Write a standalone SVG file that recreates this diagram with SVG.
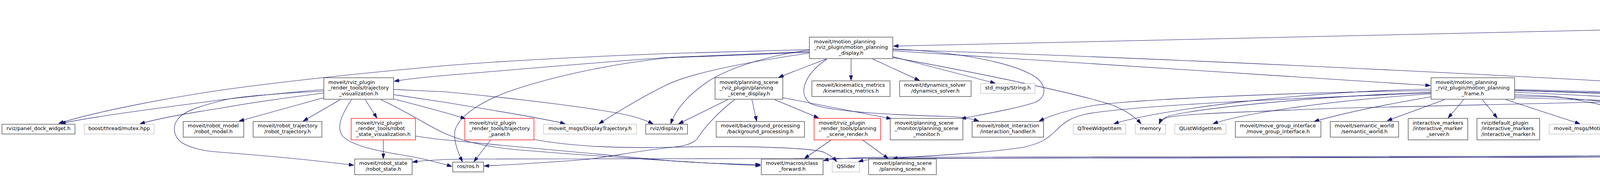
<svg xmlns="http://www.w3.org/2000/svg" width="6805" height="453" viewBox="0 0 6805 453">
<defs>
<marker id="ah" markerWidth="13" markerHeight="9" refX="13" refY="4.5" orient="auto" markerUnits="userSpaceOnUse"><path d="M0,0 L13,4.5 L0,9 z" fill="#191970" stroke="#191970" stroke-width="1"/></marker>
</defs>
<style>
.nd rect{fill:#fff;stroke:#404040;stroke-width:1.3}
.gr rect{fill:#fff;stroke:#bfbfbf;stroke-width:1.3}
.rd rect{fill:#fff;stroke:#ff0000;stroke-width:1.3}
.rt rect{fill:#bfbfbf;stroke:#404040;stroke-width:1.3}
text{font-family:"DejaVu Sans","Noto Sans",sans-serif;font-size:13px;fill:#000}
.m{text-anchor:middle}
.s{text-anchor:start}
#edges path{fill:none;stroke:#191970;stroke-width:1.1}
</style>
<rect width="6805" height="453" fill="#fff"/>
<g id="edges" marker-end="url(#ah)">
<path d="M6218,29 L2287,118"/>
<path d="M6243,46 L5722,198"/>
<path d="M6306.7,46 L6306.7,102"/>
<path d="M6339,46 L6452,109"/>
<path d="M6368,46 L6568,109"/>
<path d="M6395,38 C6520,55 6650,88 6717,109"/>
<path d="M6256,46 C6200,80 6170,140 6173,200 C6176,250 6190,300 6170,330 C6150,360 6100,368 6064,370 C5950,376 5800,383 5700,388 C5400,393 5100,397 4600,400 L2300,405 C2240,406 2215,409 2197,414"/>
<path d="M5583,254 C5530,295 5505,340 5468,360 C5430,372 5300,376 5130,380 C4700,390 4300,398 3800,400 L2300,402 C2180,403 2130,406 2108,411"/>
<path d="M5610,254 C5570,310 5530,355 5480,370 C5430,383 5300,386 5130,388 C4700,396 4300,402 3800,403 L1200,407 C1120,408 1080,411 1056,415"/>
<path d="M5575,254 L5448,317"/>
<path d="M5630.7,254 L5630.7,317"/>
<path d="M5668,254 C5690,270 5720,290 5753,317"/>
<path d="M5715,254 L5918,317"/>
<path d="M5737,236 C5900,255 6030,285 6077,317"/>
<path d="M5524,230 C4800,245 3800,265 3420,277 C3150,288 3010,292 2985,302 C2975,306 2970,311 2968,317"/>
<path d="M2072,127 C1900,131 1800,134 1710,137 C1500,145 1300,155 1140,168 C950,185 750,205 570,230 C400,255 230,290 150,316"/>
<path d="M2072,132 C1900,139 1800,143 1710,147 C1500,162 1300,180 1140,193 C1080,198 1040,203 1009,208"/>
<path d="M2072,134 C1900,140 1800,144 1710,148 C1550,165 1400,200 1300,235 C1220,265 1175,300 1165,333 C1160,360 1172,390 1184,414"/>
<path d="M2072,136 C1900,160 1760,190 1705,218 C1640,250 1575,290 1533,317"/>
<path d="M2072,128 C1980,140 1870,170 1810,210 C1760,245 1730,280 1717,317"/>
<path d="M2115,151 L1993,198"/>
<path d="M2178.7,150 L2178.7,206"/>
<path d="M2234,151 L2354,206"/>
<path d="M2285,145 L2548,213"/>
<path d="M2285,125 C2450,133 2600,160 2655,200 C2680,222 2678,250 2650,262 C2600,278 2520,292 2460,304"/>
<path d="M2117,151 C2060,190 2040,240 2075,265 C2130,290 2350,296 2425,298 C2460,299 2485,303 2506,310"/>
<path d="M2285,127 C2800,143 3400,170 3990,201 C4400,222 4800,255 5130,277 C5300,290 5365,300 5396,317"/>
<path d="M2285,130 L3662,219"/>
<path d="M2285,147 C2550,195 2780,245 2850,270 C2880,282 2905,298 2921,317"/>
<path d="M1863,255 L1737,317"/>
<path d="M1881,255 C1840,285 1800,330 1785,355 C1770,372 1740,375 1710,378 C1620,388 1560,402 1500,408 C1380,418 1290,422 1239,425"/>
<path d="M1925,255 L1937,310"/>
<path d="M1983,255 L2096,302"/>
<path d="M2004,250 L2282,304"/>
<path d="M2128,358 L2059,406"/>
<path d="M2208,358 L2274,406"/>
<path d="M829,229 C720,238 640,247 570,255 C420,275 260,295 155,316"/>
<path d="M829,238 C720,252 640,263 570,276 C480,290 410,302 358,317"/>
<path d="M829,233 C700,240 600,248 570,257 C510,272 470,285 455,305 C440,325 445,350 465,365 C500,385 540,388 570,390 C700,400 820,412 906,423"/>
<path d="M829,250 L612,310"/>
<path d="M871,255 L776,310"/>
<path d="M935,255 L965,302"/>
<path d="M900,255 C880,285 860,320 875,345 C890,368 950,385 1050,400 C1100,410 1130,418 1157,426"/>
<path d="M1007,229 C1050,231 1100,233 1140,235 C1350,255 1550,280 1620,298 C1645,305 1660,311 1672,317"/>
<path d="M1007,242 C1060,250 1100,256 1140,262 C1280,285 1400,305 1447,317"/>
<path d="M1007,253 C1080,272 1150,290 1192,304"/>
<path d="M975,255 C1060,295 1100,325 1140,342 C1190,364 1250,376 1320,383 C1500,398 1800,418 1947,424"/>
<path d="M1063,348 C1090,352 1120,357 1140,358 C1350,378 1600,402 1710,411 C1800,418 1900,421 1947,421"/>
<path d="M981.3,358 L981.3,406"/>
<path d="M1256,358 L1213,414"/>
<path d="M1367,357 C1450,372 1550,380 1710,377 C1900,372 2080,378 2110,390 C2125,397 2135,405 2142,414"/>
<path d="M3698,255 L3551,309"/>
<path d="M3747,255 L3707,302"/>
<path d="M3795,255 L3833,302"/>
<path d="M3855,255 L4045,317"/>
<path d="M3663,248 C3500,275 3420,295 3364,311"/>
<path d="M3663,240 C3400,258 3180,290 3105,317"/>
<path d="M3663,236 C3300,250 3010,285 2985,300 C2975,306 2970,311 2967,317"/>
<path d="M3663,228 C3300,235 2950,285 2851,317"/>
<path d="M3663,232 C3300,236 2900,255 2800,270 C2730,282 2690,295 2660,310"/>
<path d="M3663,238 C3300,252 2900,270 2780,292 C2690,312 2720,355 2620,377 C2500,395 2330,400 2285,406"/>
<path d="M3877,242 C3930,244 3970,246 3990,248 C4100,265 4200,290 4254,310"/>
<path d="M3877,246 C3930,247 3970,248 3990,249 C4200,268 4380,292 4458,310"/>
<path d="M3877,236 C4200,250 4450,268 4560,278 C4650,288 4700,300 4731,317"/>
<path d="M3877,232 C4200,242 4450,252 4560,260 C4700,272 4820,290 4860,305 C4870,309 4878,312 4886,317"/>
<path d="M3877,229 C4200,237 4450,246 4560,253 C4800,268 4960,285 4995,297 C5008,302 5016,308 5023,317"/>
<path d="M3877,231 C4200,240 4450,250 4560,257 C4850,275 5040,288 5080,300 C5090,304 5097,310 5103,317"/>
<path d="M3877,250 C4300,262 4800,282 5130,298 C5160,301 5175,304 5193,310"/>
</g>
<g id="n_root" class="rt"><rect x="6218" y="6" width="177.5" height="40"/><text class="s" x="6229.5" y="21.4">motion_planning_frame</text><text class="m" x="6306.7" y="36.1">_joints_widget.cpp</text></g>
<g id="n_ui" class="gr"><rect x="6206" y="103" width="201.5" height="40"/><text class="s" x="6217.5" y="118.4">ui_motion_planning</text><text class="m" x="6306.7" y="133.1">_rviz_plugin_frame_joints.h</text></g>
<g id="n_qpainter" class="gr"><rect x="6431.5" y="110" width="77.5" height="25"/><text class="m" x="6470.2" y="125.2">QPainter</text></g>
<g id="n_qdoublespinbox" class="gr"><rect x="6533" y="110" width="131.5" height="25"/><text class="m" x="6598.8" y="125.2">QDoubleSpinBox</text></g>
<g id="n_qmouseevent" class="gr"><rect x="6687.5" y="110" width="113" height="25"/><text class="m" x="6744" y="125.2">QMouseEvent</text></g>
<g id="n_mp_display" class="nd"><rect x="2072" y="95" width="213.5" height="55"/><text class="s" x="2083.5" y="110.5">moveit/motion_planning</text><text class="s" x="2083.5" y="125.2">_rviz_plugin/motion_planning</text><text class="m" x="2178.7" y="139.9">_display.h</text></g>
<g id="n_mp_frame_joints_widget" class="nd"><rect x="5524" y="199" width="213.5" height="55"/><text class="s" x="5535.5" y="214.5">moveit/motion_planning</text><text class="s" x="5535.5" y="229.2">_rviz_plugin/motion_planning</text><text class="m" x="5630.7" y="243.9">_frame_joints_widget.h</text></g>
<g id="n_mp_frame" class="nd"><rect x="3663.5" y="199" width="214" height="55"/><text class="s" x="3675" y="214.5">moveit/motion_planning</text><text class="s" x="3675" y="229.2">_rviz_plugin/motion_planning</text><text class="m" x="3770.5" y="243.9">_frame.h</text></g>
<g id="n_traj_vis" class="nd"><rect x="829" y="199" width="178.5" height="55"/><text class="s" x="840.5" y="214.5">moveit/rviz_plugin</text><text class="s" x="840.5" y="229.2">_render_tools/trajectory</text><text class="m" x="918.2" y="243.9">_visualization.h</text></g>
<g id="n_ps_display" class="nd"><rect x="1830.5" y="199" width="173.5" height="55"/><text class="s" x="1842" y="214.5">moveit/planning_scene</text><text class="s" x="1842" y="229.2">_rviz_plugin/planning</text><text class="m" x="1917.3" y="243.9">_scene_display.h</text></g>
<g id="n_kin_metrics" class="nd"><rect x="2078.5" y="207" width="200" height="40"/><text class="s" x="2090" y="222.4">moveit/kinematics_metrics</text><text class="m" x="2178.5" y="237.1">/kinematics_metrics.h</text></g>
<g id="n_dyn_solver" class="nd"><rect x="2303" y="207" width="183" height="40"/><text class="s" x="2314.5" y="222.4">moveit/dynamics_solver</text><text class="m" x="2394.5" y="237.1">/dynamics_solver.h</text></g>
<g id="n_std_string" class="gr"><rect x="2510.5" y="214" width="139" height="25"/><text class="m" x="2580" y="229.2">std_msgs/String.h</text></g>
<g id="n_panel_dock" class="nd"><rect x="5" y="318" width="187" height="25"/><text class="m" x="98.5" y="333.2">rviz/panel_dock_widget.h</text></g>
<g id="n_mutex" class="gr"><rect x="215.5" y="318" width="179" height="25"/><text class="m" x="305" y="333.2">boost/thread/mutex.hpp</text></g>
<g id="n_robot_model" class="nd"><rect x="469" y="311" width="155" height="40"/><text class="s" x="480.5" y="326.4">moveit/robot_model</text><text class="m" x="546.5" y="341.1">/robot_model.h</text></g>
<g id="n_robot_traj" class="nd"><rect x="648" y="311" width="176" height="40"/><text class="s" x="659.5" y="326.4">moveit/robot_trajectory</text><text class="m" x="736" y="341.1">/robot_trajectory.h</text></g>
<g id="n_robot_state_vis" class="rd"><rect x="899" y="303" width="164.5" height="55"/><text class="s" x="910.5" y="318.5">moveit/rviz_plugin</text><text class="s" x="910.5" y="333.2">_render_tools/robot</text><text class="m" x="981.2" y="347.9">_state_visualization.h</text></g>
<g id="n_traj_panel" class="rd"><rect x="1190" y="303" width="177" height="55"/><text class="s" x="1201.5" y="318.5">moveit/rviz_plugin</text><text class="s" x="1201.5" y="333.2">_render_tools/trajectory</text><text class="m" x="1278.5" y="347.9">_panel.h</text></g>
<g id="n_display_traj" class="gr"><rect x="1391.5" y="318" width="238" height="25"/><text class="m" x="1510.5" y="333.2">moveit_msgs/DisplayTrajectory.h</text></g>
<g id="n_rviz_display" class="nd"><rect x="1653" y="318" width="107" height="25"/><text class="m" x="1706.5" y="333.2">rviz/display.h</text></g>
<g id="n_bg_proc" class="nd"><rect x="1833.5" y="311" width="226" height="40"/><text class="s" x="1845" y="326.4">moveit/background_processing</text><text class="m" x="1946.5" y="341.1">/background_processing.h</text></g>
<g id="n_ps_render" class="rd"><rect x="2084" y="303" width="170.5" height="55"/><text class="s" x="2095.5" y="318.5">moveit/rviz_plugin</text><text class="s" x="2095.5" y="333.2">_render_tools/planning</text><text class="m" x="2169.2" y="347.9">_scene_render.h</text></g>
<g id="n_psm" class="nd"><rect x="2279" y="303" width="186" height="55"/><text class="s" x="2290.5" y="318.5">moveit/planning_scene</text><text class="s" x="2290.5" y="333.2">_monitor/planning_scene</text><text class="m" x="2372" y="347.9">_monitor.h</text></g>
<g id="n_interaction_handler" class="nd"><rect x="2488.5" y="311" width="183" height="40"/><text class="s" x="2500" y="326.4">moveit/robot_interaction</text><text class="m" x="2580" y="341.1">/interaction_handler.h</text></g>
<g id="n_qtreewidgetitem" class="gr"><rect x="2747.5" y="318" width="134.5" height="25"/><text class="m" x="2814.7" y="333.2">QTreeWidgetItem</text></g>
<g id="n_memory" class="gr"><rect x="2906.5" y="318" width="77.5" height="25"/><text class="m" x="2945.2" y="333.2">memory</text></g>
<g id="n_qlistwidgetitem" class="gr"><rect x="3007.5" y="318" width="131" height="25"/><text class="m" x="3073" y="333.2">QListWidgetItem</text></g>
<g id="n_move_group_interface" class="nd"><rect x="3162.5" y="311" width="219" height="40"/><text class="s" x="3174" y="326.4">moveit/move_group_interface</text><text class="m" x="3272" y="341.1">/move_group_interface.h</text></g>
<g id="n_semantic_world" class="nd"><rect x="3405.5" y="311" width="175" height="40"/><text class="s" x="3417" y="326.4">moveit/semantic_world</text><text class="m" x="3493" y="341.1">/semantic_world.h</text></g>
<g id="n_im_server" class="nd"><rect x="3605" y="303" width="152.5" height="55"/><text class="s" x="3616.5" y="318.5">interactive_markers</text><text class="s" x="3616.5" y="333.2">/interactive_marker</text><text class="m" x="3681.2" y="347.9">_server.h</text></g>
<g id="n_rviz_im" class="nd"><rect x="3781" y="303" width="160.5" height="55"/><text class="s" x="3792.5" y="318.5">rviz/default_plugin</text><text class="s" x="3792.5" y="333.2">/interactive_markers</text><text class="m" x="3861.2" y="347.9">/interactive_marker.h</text></g>
<g id="n_motion_plan_request" class="gr"><rect x="3966" y="318" width="252" height="25"/><text class="m" x="4092" y="333.2">moveit_msgs/MotionPlanRequest.h</text></g>
<g id="n_simple_action_client" class="nd"><rect x="4241.5" y="311" width="167.5" height="40"/><text class="s" x="4253" y="326.4">actionlib/client/simple</text><text class="m" x="4325.2" y="341.1">_action_client.h</text></g>
<g id="n_object_recognition" class="gr"><rect x="4433.5" y="311" width="240" height="40"/><text class="s" x="4445" y="326.4">object_recognition</text><text class="m" x="4553.5" y="341.1">_msgs/ObjectRecognitionAction.h</text></g>
<g id="n_std_bool" class="gr"><rect x="4698" y="318" width="129.5" height="25"/><text class="m" x="4762.7" y="333.2">std_msgs/Bool.h</text></g>
<g id="n_std_empty" class="gr"><rect x="4851.5" y="318" width="140" height="25"/><text class="m" x="4921.5" y="333.2">std_msgs/Empty.h</text></g>
<g id="n_map" class="gr"><rect x="5015.5" y="318" width="51" height="25"/><text class="m" x="5041" y="333.2">map</text></g>
<g id="n_string" class="gr"><rect x="5090.5" y="318" width="59" height="25"/><text class="m" x="5120" y="333.2">string</text></g>
<g id="n_robot_interaction" class="nd"><rect x="5173.5" y="311" width="183" height="40"/><text class="s" x="5185" y="326.4">moveit/robot_interaction</text><text class="m" x="5265" y="341.1">/robot_interaction.h</text></g>
<g id="n_qwidget" class="gr"><rect x="5380.5" y="318" width="79" height="25"/><text class="m" x="5420" y="333.2">QWidget</text></g>
<g id="n_eigen_svd" class="gr"><rect x="5585.5" y="318" width="90" height="25"/><text class="m" x="5630.5" y="333.2">Eigen/SVD</text></g>
<g id="n_qabstractitemmodel" class="gr"><rect x="5699" y="318" width="156" height="25"/><text class="m" x="5777" y="333.2">QAbstractItemModel</text></g>
<g id="n_qstyleditemdelegate" class="gr"><rect x="5879.5" y="318" width="163" height="25"/><text class="m" x="5961" y="333.2">QStyledItemDelegate</text></g>
<g id="n_vector" class="gr"><rect x="6067.5" y="318" width="62.5" height="25"/><text class="m" x="6098.7" y="333.2">vector</text></g>
<g id="n_robot_state" class="nd"><rect x="908" y="407" width="147" height="40"/><text class="s" x="919.5" y="422.4">moveit/robot_state</text><text class="m" x="981.5" y="437.1">/robot_state.h</text></g>
<g id="n_ros" class="nd"><rect x="1159" y="415" width="79" height="25"/><text class="m" x="1198.5" y="430.2">ros/ros.h</text></g>
<g id="n_class_forward" class="nd"><rect x="1949" y="407" width="158" height="40"/><text class="s" x="1960.5" y="422.4">moveit/macros/class</text><text class="m" x="2028" y="437.1">_forward.h</text></g>
<g id="n_qslider" class="gr"><rect x="2130.5" y="415" width="70" height="25"/><text class="m" x="2165.5" y="430.2">QSlider</text></g>
<g id="n_planning_scene" class="nd"><rect x="2223.5" y="407" width="173.5" height="40"/><text class="s" x="2235" y="422.4">moveit/planning_scene</text><text class="m" x="2310.2" y="437.1">/planning_scene.h</text></g>
</svg>
